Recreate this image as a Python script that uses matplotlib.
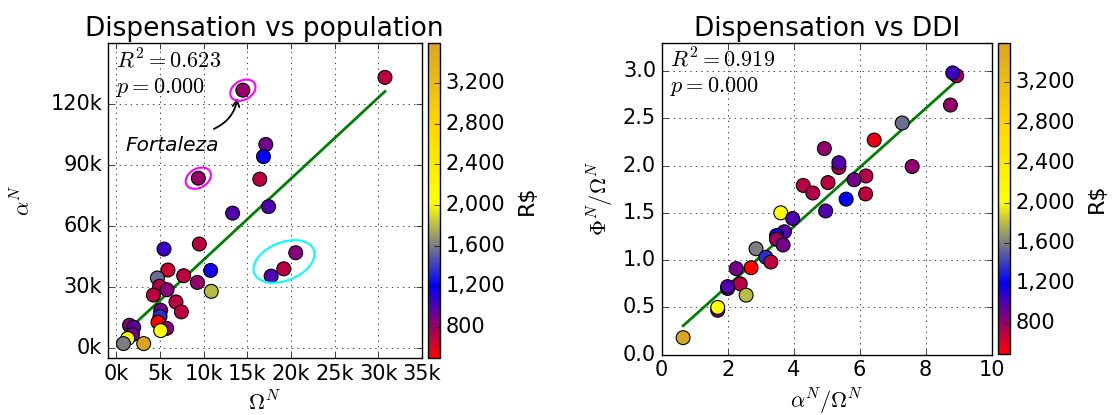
import numpy as np
import matplotlib
matplotlib.use('Agg')
import matplotlib.pyplot as plt
from matplotlib.colors import LinearSegmentedColormap
from matplotlib.patches import Ellipse
from matplotlib.ticker import FuncFormatter
from matplotlib.transforms import ScaledTranslation

plt.style.use('classic')

# population (Omega^N) vs dispensation (alpha^N), colour = R$
pop_x = [30780, 14490, 17120, 16850, 16430, 9380, 17430, 13310, 9500, 5450,
         20550, 19180, 17730, 5900, 10790, 7700, 4690, 9270, 4950, 5790,
         10870, 4230, 6820, 7440, 5070, 4990, 4760, 5760, 5070, 1490,
         1980, 1830, 1290, 800, 3120]
pop_y = [133100, 126800, 100100, 94100, 83000, 83500, 69500, 66300, 51100, 48600,
         46800, 38900, 35300, 38300, 38100, 35500, 34400, 32200, 30300, 28600,
         27800, 26000, 22600, 17700, 18500, 15500, 12600, 9600, 8500, 11100,
         10100, 6500, 4600, 2100, 2100]
pop_c = [700, 800, 900, 1200, 700, 800, 1000, 1000, 700, 1050,
         850, 700, 1000, 650, 1150, 700, 1550, 800, 720, 850,
         1800, 700, 700, 700, 900, 1350, 495, 850, 2050, 850,
         950, 900, 2050, 1600, 3595]

# DDI (alpha^N/Omega^N) vs Phi^N/Omega^N
ddi_x = [8.94, 8.82, 8.75, 7.29, 6.44, 4.93, 5.37, 5.37, 7.59, 6.19,
         5.83, 5.04, 4.29, 4.58, 6.18, 5.59, 4.97, 3.61, 3.97, 3.72,
         3.48, 3.48, 3.68, 2.86, 3.16, 3.31, 2.71, 2.26, 2.38, 2.00,
         2.00, 2.56, 1.70, 1.70, 0.65]
ddi_y = [2.95, 2.98, 2.64, 2.45, 2.27, 2.18, 1.98, 2.03, 1.99, 1.89,
         1.85, 1.82, 1.79, 1.71, 1.70, 1.645, 1.52, 1.50, 1.44, 1.30,
         1.26, 1.22, 1.16, 1.12, 1.03, 0.98, 0.92, 0.91, 0.75, 0.70,
         0.72, 0.63, 0.47, 0.50, 0.18]
ddi_c = [750, 1050, 800, 1550, 560, 820, 720, 1000, 830, 720,
         900, 700, 700, 720, 680, 1200, 1000, 2050, 1000, 980,
         1150, 780, 900, 1600, 1350, 700, 495, 900, 700, 850,
         1000, 1800, 850, 2050, 3595]

cmap = LinearSegmentedColormap.from_list('rs', [
    (0.0, 'red'), (0.12, 'purple'), (0.23, 'blue'), (0.36, 'gray'),
    (0.49, 'yellow'), (0.74, 'gold'), (1.0, 'goldenrod')])

fig = plt.figure(figsize=(11.12, 4.15), dpi=100, facecolor='white')
ax1 = fig.add_axes([0.0969, 0.1373, 0.2824, 0.759])
cax1 = fig.add_axes([0.3852, 0.1373, 0.0105, 0.759])
ax2 = fig.add_axes([0.595, 0.1453, 0.2968, 0.752])
cax2 = fig.add_axes([0.8978, 0.1470, 0.0105, 0.750])


def panel(ax, cax, x, y, c, title, r2):
    sc = ax.scatter(x, y, c=c, cmap=cmap, s=100, edgecolors='black',
                    linewidths=0.8, zorder=3)
    x = np.array(x)
    m, b = np.polyfit(x, np.array(y), 1)
    xx = np.array([x.min(), x.max()])
    ax.plot(xx, m * xx + b, color='green', lw=2, zorder=2)
    ax.grid(True, color='black', linestyle=':')
    ax.set_title(title, fontsize=19)
    ax.tick_params(labelsize=15)
    ax.text(0.025, 0.946, r'$R^2 = %s$' % r2, transform=ax.transAxes,
            fontsize=16, va='center', ha='left')
    ax.text(0.025, 0.86, r'$p = 0.000$', transform=ax.transAxes,
            fontsize=16, va='center', ha='left')
    cb = fig.colorbar(sc, cax=cax, ticks=[800, 1200, 1600, 2000, 2400, 2800, 3200],
                      format=FuncFormatter(lambda v, p: '{:,.0f}'.format(v)))
    cb.ax.tick_params(labelsize=15)
    cb.set_label('R$', fontsize=16, labelpad=8)
    return sc


panel(ax1, cax1, pop_x, pop_y, pop_c, 'Dispensation vs population', '0.623')
ax1.set_xlim(-1000, 35000)
ax1.set_ylim(-5000, 150000)
ax1.set_xticks(np.arange(0, 35001, 5000))
ax1.set_yticks(np.arange(0, 120001, 30000))
kfmt = FuncFormatter(lambda v, p: '%dk' % round(v / 1000))
ax1.xaxis.set_major_formatter(kfmt)
ax1.yaxis.set_major_formatter(kfmt)
ax1.set_xlabel(r'$\Omega^N$', fontsize=16)
ax1.set_ylabel(r'$\alpha^N$', fontsize=16, labelpad=12)

# highlighted cities (sizes in inches around the data point)
for (cx, cy), w, h, ang, col in [((14490, 126800), 0.27, 0.19, 30, 'magenta'),
                                 ((9380, 83500), 0.27, 0.19, 30, 'magenta'),
                                 ((19200, 42500), 0.64, 0.38, 22, 'cyan')]:
    tr = fig.dpi_scale_trans + ScaledTranslation(cx, cy, ax1.transData)
    ax1.add_patch(Ellipse((0, 0), w, h, angle=ang, transform=tr, fill=False,
                          edgecolor=col, lw=1.5, zorder=4))

ax1.annotate('', xy=(13900, 124300), xytext=(10870, 107200),
             arrowprops=dict(arrowstyle='->', color='black', lw=1.3,
                             connectionstyle='arc3,rad=0.3'))
ax1.text(1000, 99800, 'Fortaleza', fontsize=14.5, style='italic', va='center')

panel(ax2, cax2, ddi_x, ddi_y, ddi_c, 'Dispensation vs DDI', '0.919')
ax2.set_xlim(0, 10)
ax2.set_ylim(0, 3.3)
ax2.set_xticks(np.arange(0, 11, 2))
ax2.set_yticks(np.arange(0, 3.01, 0.5))
ax2.set_xlabel(r'$\alpha^N/\Omega^N$', fontsize=16)
ax2.set_ylabel(r'$\Phi^N/\Omega^N$', fontsize=16)

fig.savefig('out.png', dpi=100, facecolor='white')
